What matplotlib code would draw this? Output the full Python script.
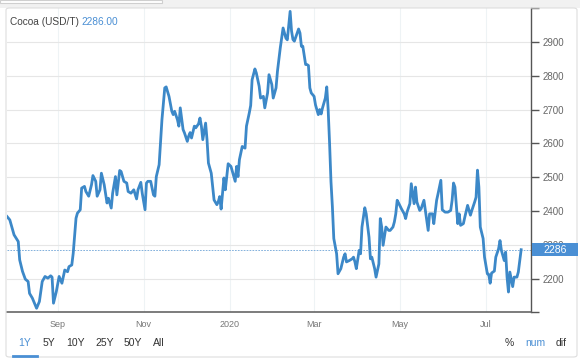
import matplotlib
matplotlib.use("Agg")
import matplotlib.pyplot as plt
from matplotlib.patches import Rectangle, FancyBboxPatch
from matplotlib.lines import Line2D
from matplotlib.transforms import blended_transform_factory
import pandas as pd

# Cocoa price, USD per tonne
dates = [
    "2019-07-27", "2019-07-29", "2019-07-31", "2019-08-01", "2019-08-04", "2019-08-05",
    "2019-08-07", "2019-08-09", "2019-08-11", "2019-08-12", "2019-08-14", "2019-08-17",
    "2019-08-19", "2019-08-20", "2019-08-21", "2019-08-23", "2019-08-25", "2019-08-27",
    "2019-08-28", "2019-08-29", "2019-08-31", "2019-09-02", "2019-09-04", "2019-09-06",
    "2019-09-08", "2019-09-09", "2019-09-11", "2019-09-12", "2019-09-14", "2019-09-15",
    "2019-09-17", "2019-09-18", "2019-09-20", "2019-09-21", "2019-09-23", "2019-09-25",
    "2019-09-26", "2019-09-28", "2019-09-29", "2019-10-01", "2019-10-02", "2019-10-04",
    "2019-10-06", "2019-10-07", "2019-10-09", "2019-10-10", "2019-10-12", "2019-10-13",
    "2019-10-15", "2019-10-16", "2019-10-18", "2019-10-20", "2019-10-21", "2019-10-23",
    "2019-10-25", "2019-10-27", "2019-10-28", "2019-10-30", "2019-10-31", "2019-11-02",
    "2019-11-03", "2019-11-04", "2019-11-06", "2019-11-08", "2019-11-09", "2019-11-10",
    "2019-11-12", "2019-11-13", "2019-11-14", "2019-11-16", "2019-11-17", "2019-11-19",
    "2019-11-21", "2019-11-22", "2019-11-23", "2019-11-25", "2019-11-26", "2019-11-27",
    "2019-11-29", "2019-11-30", "2019-12-02", "2019-12-03", "2019-12-04", "2019-12-05",
    "2019-12-07", "2019-12-08", "2019-12-10", "2019-12-11", "2019-12-12", "2019-12-13",
    "2019-12-15", "2019-12-16", "2019-12-17", "2019-12-19", "2019-12-20", "2019-12-21",
    "2019-12-23", "2019-12-24", "2019-12-25", "2019-12-26", "2019-12-28", "2019-12-29",
    "2019-12-31", "2020-01-02", "2020-01-03", "2020-01-05", "2020-01-06", "2020-01-07",
    "2020-01-08", "2020-01-10", "2020-01-12", "2020-01-13", "2020-01-15", "2020-01-16",
    "2020-01-17", "2020-01-19", "2020-01-20", "2020-01-22", "2020-01-23", "2020-01-25",
    "2020-01-26", "2020-01-28", "2020-01-29", "2020-01-31", "2020-02-01", "2020-02-03",
    "2020-02-04", "2020-02-06", "2020-02-08", "2020-02-09", "2020-02-10", "2020-02-11",
    "2020-02-13", "2020-02-14", "2020-02-15", "2020-02-16", "2020-02-18", "2020-02-19",
    "2020-02-20", "2020-02-21", "2020-02-22", "2020-02-24", "2020-02-25", "2020-02-26",
    "2020-02-27", "2020-02-28", "2020-03-01", "2020-03-02", "2020-03-04", "2020-03-05",
    "2020-03-06", "2020-03-07", "2020-03-09", "2020-03-10", "2020-03-11", "2020-03-12",
    "2020-03-13", "2020-03-14", "2020-03-15", "2020-03-17", "2020-03-18", "2020-03-20",
    "2020-03-22", "2020-03-23", "2020-03-24", "2020-03-26", "2020-03-28", "2020-03-29",
    "2020-03-30", "2020-03-31", "2020-04-02", "2020-04-03", "2020-04-04", "2020-04-06",
    "2020-04-07", "2020-04-09", "2020-04-10", "2020-04-11", "2020-04-13", "2020-04-14",
    "2020-04-16", "2020-04-17", "2020-04-18", "2020-04-19", "2020-04-21", "2020-04-23",
    "2020-04-24", "2020-04-26", "2020-04-27", "2020-04-28", "2020-04-29", "2020-04-30",
    "2020-05-02", "2020-05-04", "2020-05-05", "2020-05-06", "2020-05-08", "2020-05-09",
    "2020-05-11", "2020-05-12", "2020-05-13", "2020-05-15", "2020-05-16", "2020-05-18",
    "2020-05-19", "2020-05-21", "2020-05-22", "2020-05-24", "2020-05-25", "2020-05-27",
    "2020-05-28", "2020-05-30", "2020-05-31", "2020-06-02", "2020-06-04", "2020-06-06",
    "2020-06-07", "2020-06-08", "2020-06-09", "2020-06-11", "2020-06-12", "2020-06-13",
    "2020-06-15", "2020-06-16", "2020-06-18", "2020-06-20", "2020-06-21", "2020-06-23",
    "2020-06-24", "2020-06-25", "2020-06-26", "2020-06-27", "2020-06-29", "2020-06-30",
    "2020-07-02", "2020-07-03", "2020-07-04", "2020-07-05", "2020-07-07", "2020-07-08",
    "2020-07-10", "2020-07-11", "2020-07-12", "2020-07-14", "2020-07-15", "2020-07-16",
    "2020-07-17", "2020-07-18", "2020-07-20", "2020-07-21", "2020-07-23", "2020-07-24",
    "2020-07-25", "2020-07-26",
]
prices = [
    2384, 2374, 2345, 2330, 2310, 2256,
    2222, 2199, 2192, 2157, 2143, 2113,
    2133, 2162, 2192, 2207, 2202, 2209,
    2205, 2128, 2162, 2207, 2187, 2226,
    2221, 2236, 2241, 2275, 2379, 2394,
    2404, 2468, 2473, 2458, 2444, 2478,
    2505, 2488, 2444, 2463, 2512, 2478,
    2424, 2438, 2409, 2453, 2502, 2448,
    2520, 2517, 2488, 2483, 2458, 2453,
    2463, 2436, 2463, 2485, 2453, 2404,
    2483, 2488, 2488, 2448, 2444, 2502,
    2537, 2601, 2670, 2764, 2767, 2739,
    2695, 2685, 2695, 2670, 2651, 2705,
    2641, 2631, 2606, 2622, 2632, 2616,
    2651, 2646, 2658, 2675, 2651, 2611,
    2660, 2611, 2542, 2512, 2473, 2433,
    2419, 2428, 2443, 2406, 2498, 2463,
    2540, 2532, 2517, 2488, 2532, 2502,
    2552, 2591, 2586, 2651, 2690, 2712,
    2788, 2820, 2808, 2769, 2734, 2739,
    2705, 2749, 2803, 2774, 2734, 2764,
    2813, 2882, 2941, 2926, 2911, 2906,
    2990, 2932, 2907, 2902, 2926, 2938,
    2926, 2887, 2887, 2833, 2833, 2830,
    2764, 2749, 2739, 2714, 2685, 2700,
    2687, 2705, 2734, 2767, 2700, 2601,
    2487, 2413, 2319, 2274, 2215, 2230,
    2264, 2274, 2250, 2254, 2259, 2264,
    2250, 2230, 2284, 2274, 2353, 2410,
    2392, 2323, 2259, 2264, 2230, 2205,
    2244, 2378, 2353, 2299, 2353, 2343,
    2343, 2353, 2368, 2392, 2432, 2424,
    2407, 2392, 2378, 2397, 2422, 2481,
    2422, 2471, 2427, 2402, 2407, 2432,
    2402, 2343, 2392, 2392, 2363, 2432,
    2451, 2491, 2404, 2397, 2397, 2402,
    2432, 2483, 2471, 2363, 2392, 2358,
    2363, 2382, 2417, 2388, 2402, 2427,
    2441, 2521, 2471, 2353, 2319, 2264,
    2215, 2213, 2187, 2217, 2223, 2264,
    2289, 2313, 2284, 2254, 2279, 2205,
    2161, 2220, 2177, 2205, 2205, 2220,
    2254, 2286,
]
last_price = 2286
month_ticks = ["2019-09-01", "2019-11-01", "2020-01-01", "2020-03-01", "2020-05-01", "2020-07-01"]
month_labels = ["Sep", "Nov", "2020", "Mar", "May", "Jul"]
y_ticks = [2200, 2300, 2400, 2500, 2600, 2700, 2800, 2900]
range_buttons = ["1Y", "5Y", "10Y", "25Y", "50Y", "All"]
mode_buttons = ["%", "num", "dif"]

plt.rcParams["font.family"] = ["Liberation Sans", "DejaVu Sans"]
blue = "#3c88c8"
W, H = 580, 359

def fx(x):
    return x / W

def fy(y):
    return 1 - y / H

fig = plt.figure(figsize=(5.8, 3.59), dpi=100)

# page chrome: grey strip on top, search box, panel border
fig.add_artist(Rectangle((0, fy(8)), 1, 8 / H, transform=fig.transFigure,
                         fc="#f1f1f1", ec="none", zorder=0))
fig.add_artist(Rectangle((0, fy(3)), fx(162), 3 / H, transform=fig.transFigure,
                         fc="white", ec="#cfcfcf", lw=0.8, zorder=1))
fig.add_artist(FancyBboxPatch((fx(6), fy(357)), fx(571), 349 / H, transform=fig.transFigure,
                              boxstyle="round,pad=0,rounding_size=0.006",
                              fc="none", ec="#dddddd", lw=0.8, zorder=1))

ax = fig.add_axes([fx(7), fy(312), fx(524), (312 - 8) / H])
x = pd.to_datetime(dates)
ax.plot(x, prices, color=blue, lw=2.0, solid_joinstyle="round", zorder=3)
ax.axhline(last_price, color="#6ea3d6", lw=0.6, ls=(0, (2, 1.5)), zorder=2)

ax.set_xlim(pd.Timestamp("2019-07-27"), pd.Timestamp("2020-08-02"))
ax.set_ylim(2102, 3000)

ax.set_xticks(pd.to_datetime(month_ticks))
ax.set_xticklabels(month_labels)
ax.set_yticks(y_ticks)
ax.set_yticks([2102, 3000], minor=True)
ax.yaxis.tick_right()
ax.tick_params(axis="x", length=0, pad=6, labelsize=6.5, colors="#777777")
ax.tick_params(axis="y", which="both", length=6, width=1, color="#555555",
               pad=2, labelsize=7, labelcolor="#666666")
ax.grid(axis="y", color="#e6e6e6", lw=0.8)
ax.grid(axis="x", color="#eef3f5", lw=0.8)
ax.set_axisbelow(True)
for side in ["left", "top"]:
    ax.spines[side].set_visible(False)
ax.spines["right"].set_color("#555555")
ax.spines["bottom"].set_color("#666666")
ax.spines["right"].set_linewidth(1)
ax.spines["bottom"].set_linewidth(1.2)

# last value badge on the right axis
tr = blended_transform_factory(fig.transFigure, ax.transData)
fig.add_artist(Rectangle((fx(532), last_price - 19), fx(46), 38, transform=tr,
                         fc="#4a8fd4", ec="none", zorder=5))
fig.text(fx(555), last_price, str(last_price), transform=tr, ha="center", va="center",
         color="white", fontsize=7.5, zorder=6)

# title: name in grey, last price in blue right after it
name = fig.text(fx(10), fy(22), "Cocoa (USD/T)", color="#444444", fontsize=7.3, va="center")
renderer = fig.canvas.get_renderer()
name_end = name.get_window_extent(renderer).x1
fig.text(name_end / fig.bbox.width + fx(3), fy(22), f"{last_price:.2f}",
         color="#4a8fd4", fontsize=7.3, va="center")

# range buttons and mode buttons
for label, cx in zip(range_buttons, [25, 49, 76, 105, 133, 159]):
    fig.text(fx(cx), fy(343), label, ha="center", va="center", fontsize=7.5,
             color="#4a8fd4" if label == "1Y" else "#333333")
fig.add_artist(Line2D([fx(13), fx(37)], [fy(356), fy(356)], transform=fig.transFigure,
                      color="#4a8fd4", lw=2))
for label, cx in zip(mode_buttons, [509, 535, 561]):
    fig.text(fx(cx), fy(343), label, ha="center", va="center", fontsize=7.5,
             color="#4a8fd4" if label == "num" else "#333333")

fig.savefig("out.png", dpi=100)
